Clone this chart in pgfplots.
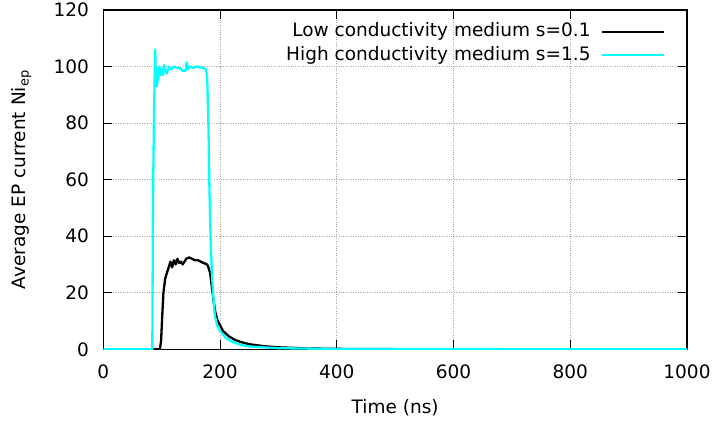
\documentclass[border=0pt]{standalone}
\usepackage{fontspec}
\setmainfont{DejaVu Sans}
\usepackage{pgfplots}
\pgfplotsset{compat=1.18}
\definecolor{gpcyan}{RGB}{0,255,255}
\begin{document}
\fontsize{18.5}{22}\selectfont
\begin{tikzpicture}
\useasboundingbox (0pt,0pt) rectangle (717pt,423pt);
\begin{axis}[
  at={(103.3pt,73.7pt)}, anchor=south west,
  scale only axis, width=583.7pt, height=339.3pt,
  xmin=0, xmax=1000, ymin=0, ymax=120,
  xtick={0,200,...,1000}, ytick={0,20,...,120},
  /pgf/number format/assume math mode=true,
  /pgf/number format/1000 sep={},
  tick align=inside, tick pos=both, major tick length=9pt,
  every tick/.style={black, line width=1pt},
  axis line style={black, line width=1.2pt},
  grid=major,
  major grid style={gray!70, dotted, line width=1pt},
  ticklabel style={font=\fontsize{18.5}{22}\selectfont},
  xticklabel style={yshift=-9pt},
  yticklabel style={xshift=-8pt},
  xlabel={Time (ns)},
  ylabel={Average EP current Ni\textsubscript{ep}},
  label style={font=\fontsize{18.5}{22}\selectfont},
  x label style={at={(axis description cs:0.5,-0.171)}, anchor=center},
  y label style={at={(axis description cs:-0.14,0.5)}, anchor=center},
  legend style={at={(axis description cs:0.9623,0.9626)}, anchor=north east, draw=none, fill=none,
    inner sep=0pt, font=\fontsize{18.5}{21}\selectfont, row sep=5.3pt, column sep=10pt,
    nodes={inner sep=0pt, text height=14pt, text depth=4pt}},
  legend cell align=right,
  legend plot pos=right,
  legend image code/.code={\draw[#1] (0pt,0pt) -- (62pt,0pt);},
]
\addplot[black, line width=2.3pt, line join=round] coordinates {
(0,0) (97,0) (99,3) (101,12) (103,20) (106,25) (109,27) (112,29) (115,31) (118,29)
(121,31.5) (124,30) (127,32) (130,30.5) (133,31) (136,30) (139,31) (142,32) (147,32.5)
(152,32) (157,31.5) (162,31.5) (167,31) (172,30.5) (178,30) (180,29) (183,27) (186,22)
(189,17) (192,13) (196,10) (200,8.5) (205,6.5) (215,4.6) (225,3.4) (235,2.6) (250,1.8)
(275,1.1) (300,0.7) (350,0.3) (400,0.15) (500,0.05) (1000,0)
};
\addlegendentry{Low conductivity medium s=0.1}
\addplot[gpcyan, line width=2.3pt, line join=round] coordinates {
(0,0) (84,0) (85,50) (87,85) (89,106) (90,96) (91,100) (92,93) (93,98) (94,95) (96,100)
(98,97) (100,99) (102,97) (104,100.5) (106,98.5) (109,97.5) (112,100) (116,99) (121,100)
(126,99.5) (131,99.5) (136,98.5) (141,98.5) (143,101.5) (145,99) (149,100) (154,99.5) (160,100)
(170,99.5) (176,99) (178,96) (180,80) (182,55) (184,38) (186,27) (188,20) (191,12)
(195,8.5) (200,6.5) (210,4) (220,2.7) (235,1.6) (250,1) (300,0.4) (400,0.1) (1000,0)
};
\addlegendentry{High conductivity medium s=1.5}
\end{axis}
\end{tikzpicture}
\end{document}
